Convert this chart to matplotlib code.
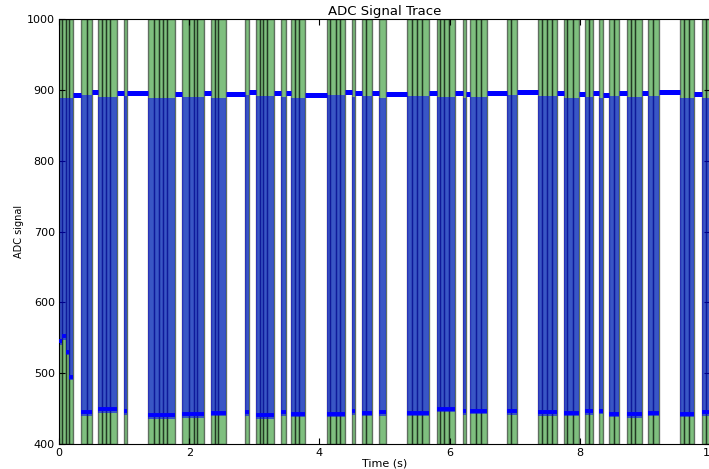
"""ADC signal trace with shaded low-level windows."""

import matplotlib
matplotlib.use("Agg")
import matplotlib.pyplot as plt
import numpy as np

# Low-level windows, grouped in bursts: each list holds the span edges (s)
BURSTS = [
    [0.00, 0.05, 0.10, 0.15, 0.22],
    [0.34, 0.43, 0.51],
    [0.60, 0.66, 0.72, 0.78, 0.89],
    [1.00, 1.05],
    [1.37, 1.46, 1.54, 1.60, 1.66, 1.78],
    [1.89, 2.00, 2.07, 2.12, 2.23],
    [2.34, 2.40, 2.45, 2.56],
    [2.86, 2.92],
    [3.03, 3.09, 3.14, 3.20, 3.30],
    [3.41, 3.48],
    [3.56, 3.63, 3.69, 3.78],
    [4.11, 4.17, 4.25, 4.31, 4.40],
    [4.50, 4.55],
    [4.65, 4.72, 4.81],
    [4.92, 5.03],
    [5.34, 5.43, 5.50, 5.58, 5.69],
    [5.80, 5.86, 5.91, 5.99, 6.08],
    [6.20, 6.25],
    [6.32, 6.40, 6.48, 6.57],
    [6.88, 6.94, 7.04],
    [7.36, 7.42, 7.50, 7.58, 7.65],
    [7.76, 7.81, 7.89, 7.99],
    [8.08, 8.14, 8.20],
    [8.29, 8.35],
    [8.45, 8.52, 8.60],
    [8.72, 8.78, 8.85, 8.96],
    [9.04, 9.12, 9.22],
    [9.54, 9.60, 9.68, 9.76],
    [9.87, 9.94, 10.0],
]

# low level of the trace in each burst (first burst: start-up transient per span)
LOW_LEVEL = [
    [545, 552, 530, 495],
    445, 449, 446, 441, 442, 444, 445, 441, 445, 443,
    443, 446, 444, 445, 444, 450, 446, 447, 446,
    445, 444, 446, 447, 443, 442, 444, 443, 445,
]

# high level of the trace after each burst
HIGH_LEVEL = [
    893, 897, 895, 896, 894, 895, 894, 897, 896, 895,
    893, 897, 895, 896, 894, 896, 895, 894, 895, 897,
    896, 894, 895, 893, 896, 895, 897, 894, 894,
]


def main() -> None:
    fig = plt.figure(figsize=(7.09, 4.69), dpi=100)
    ax = fig.add_axes([59 / 709, 25 / 469, 651 / 709, 425 / 469])

    for i, edges in enumerate(BURSTS):
        lows = LOW_LEVEL[i] if isinstance(LOW_LEVEL[i], list) else [LOW_LEVEL[i]] * (len(edges) - 1)
        top = HIGH_LEVEL[i] - 5
        for a, b, lo in zip(edges[:-1], edges[1:], lows):
            ax.axvspan(a, b, facecolor="g", edgecolor="k", alpha=0.5, lw=1.0, zorder=1)
            ax.bar(a, top - (lo - 5), width=b - a, bottom=lo - 5, align="edge",
                   color="b", alpha=0.55, lw=0, zorder=2)
            ax.hlines(lo, a, b, color="b", lw=2.8, zorder=3)
        # high level until the next burst
        if i + 1 < len(BURSTS):
            ax.hlines(HIGH_LEVEL[i], edges[-1], BURSTS[i + 1][0], color="b", lw=3.6, zorder=3)

    ax.set_xlim(0, 10)
    ax.set_ylim(400, 1000)
    ax.set_xticks(np.arange(0, 11, 2))
    ax.set_yticks(np.arange(400, 1001, 100))
    ax.tick_params(direction="in", top=True, right=True, labelsize=8, length=4, pad=3)
    ax.set_title("ADC Signal Trace", fontsize=9.5, pad=3)
    ax.set_xlabel("Time (s)", fontsize=8, labelpad=0)
    ax.set_ylabel("ADC signal", fontsize=7, labelpad=2)

    fig.savefig("out.png", dpi=100)
    plt.close(fig)


if __name__ == "__main__":
    main()
